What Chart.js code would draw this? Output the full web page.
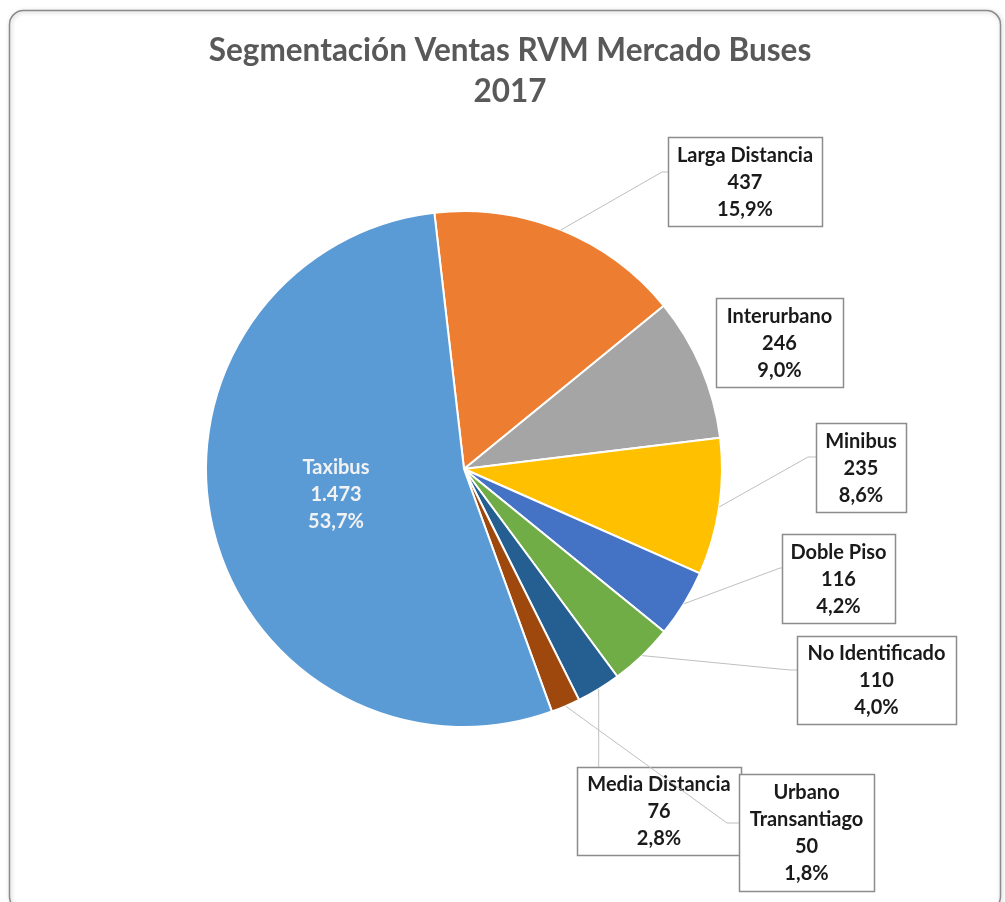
<!DOCTYPE html>
<html>
<head>
<meta charset="utf-8">
<script src="https://cdn.jsdelivr.net/npm/chart.js@4.4.1/dist/chart.umd.min.js"></script>
<style>
  html, body { margin: 0; padding: 0; background: #ffffff; }
  #wrap { width: 1005px; height: 902px; position: relative; }
</style>
</head>
<body>
<div id="wrap"><canvas id="c" width="1005" height="902"></canvas></div>
<script>
// ---- data ----
const categories = ["Larga Distancia", "Interurbano", "Minibus", "Doble Piso", "No Identificado", "Media Distancia", "Urbano Transantiago", "Taxibus"];
const ventas = [437, 246, 235, 116, 110, 76, 50, 1473];
const colores = ["#ED7D31", "#A5A5A5", "#FFC000", "#4472C4", "#70AD47", "#255E91", "#9E480E", "#5B9BD5"];
const titleLines = ["Segmentación Ventas RVM Mercado Buses", "2017"];

// label box layout (px, relative to the pie centre) – styling only
const labelLayout = [
  { box: [204, -332, 154, 89], elbow: [198, -297], attach: [204, -297] },
  { box: [252, -171, 127, 89] },
  { box: [352, -46, 90, 89], elbow: [344, -12], attach: [352, -12] },
  { box: [318, 65, 113, 89], elbow: [316, 99], attach: [318, 99] },
  { box: [333, 167, 159, 88], elbow: [326, 201], attach: [333, 201] },
  { box: [113, 298, 164, 88], vertical: true },
  { box: [275, 305, 135, 117], elbow: [263, 354], attach: [275, 354], wrap: true },
  { inside: [-128, 26], color: "#F2F2F2" }
];

const total = ventas.reduce((a, b) => a + b, 0);
function fmtNum(v) { return v.toLocaleString('de-DE'); }
function fmtPct(v) { return (v / total * 100).toFixed(1).replace('.', ',') + '%'; }

const FONT = "Lato, 'Open Sans', sans-serif";

const decorPlugin = {
  id: 'decor',
  beforeDraw(chart) {
    const ctx = chart.ctx;
    ctx.save();
    ctx.fillStyle = '#ffffff';
    ctx.fillRect(0, 0, chart.width, chart.height);
    ctx.shadowColor = 'rgba(0,0,0,0.25)';
    ctx.shadowBlur = 4;
    ctx.shadowOffsetX = 1;
    ctx.shadowOffsetY = 1;
    ctx.strokeStyle = '#8a8a8a';
    ctx.lineWidth = 1.5;
    ctx.beginPath();
    ctx.roundRect(9.5, 10.5, 991, 900, 14);
    ctx.stroke();
    ctx.restore();
    // title
    ctx.save();
    ctx.fillStyle = '#595959';
    ctx.font = "bold 31.5px " + FONT;
    ctx.textAlign = 'center';
    ctx.textBaseline = 'middle';
    ctx.fillText(titleLines[0], 510, 51);
    ctx.fillText(titleLines[1], 510, 92);
    ctx.restore();
  },
  afterDatasetsDraw(chart) {
    const ctx = chart.ctx;
    const meta = chart.getDatasetMeta(0);
    ctx.save();
    meta.data.forEach((arc, i) => {
      const L = labelLayout[i];
      const cx = arc.x, cy = arc.y;
      const mid = (arc.startAngle + arc.endAngle) / 2;
      const r = arc.outerRadius;
      const px = cx + Math.cos(mid) * r, py = cy + Math.sin(mid) * r;
      const name = categories[i];
      const lines = (L.wrap ? name.split(' ') : [name]).concat([fmtNum(ventas[i]), fmtPct(ventas[i])]);
      ctx.font = "bold 20px " + FONT;
      ctx.textAlign = 'center';
      ctx.textBaseline = 'middle';
      const lh = 27;
      if (L.inside) {
        ctx.fillStyle = L.color;
        const tx = cx + L.inside[0], ty = cy + L.inside[1];
        lines.forEach((t, k) => ctx.fillText(t, tx, ty + (k - (lines.length - 1) / 2) * lh));
        return;
      }
      const [bx, by, bw, bh] = L.box;
      const X = cx + bx, Y = cy + by;
      // leader
      ctx.strokeStyle = '#BFBFBF';
      ctx.lineWidth = 1;
      if (L.vertical) {
        ctx.beginPath();
        ctx.moveTo(px, py);
        ctx.lineTo(px, Y);
        ctx.stroke();
      } else if (L.elbow) {
        ctx.beginPath();
        ctx.moveTo(px, py);
        ctx.lineTo(cx + L.elbow[0], cy + L.elbow[1]);
        ctx.lineTo(cx + L.attach[0], cy + L.attach[1]);
        ctx.stroke();
      }
      // box
      ctx.fillStyle = '#ffffff';
      ctx.fillRect(X, Y, bw, bh);
      ctx.strokeStyle = '#8C8C8C';
      ctx.lineWidth = 1.5;
      ctx.strokeRect(X + 0.5, Y + 0.5, bw, bh);
      ctx.fillStyle = '#1a1a1a';
      const tcx = X + bw / 2, tcy = Y + bh / 2 + 1;
      lines.forEach((t, k) => ctx.fillText(t, tcx, tcy + (k - (lines.length - 1) / 2) * lh));
    });
    ctx.restore();
  }
};

new Chart(document.getElementById('c'), {
  type: 'pie',
  data: {
    labels: categories,
    datasets: [{
      data: ventas,
      backgroundColor: colores,
      borderColor: '#ffffff',
      borderWidth: 2
    }]
  },
  options: {
    responsive: false,
    animation: false,
    rotation: -6.6,
    layout: { padding: { left: 205, right: 282, top: 210, bottom: 174 } },
    plugins: {
      legend: { display: false },
      title: { display: false },
      tooltip: { enabled: false }
    }
  },
  plugins: [decorPlugin]
});
</script>
</body>
</html>
